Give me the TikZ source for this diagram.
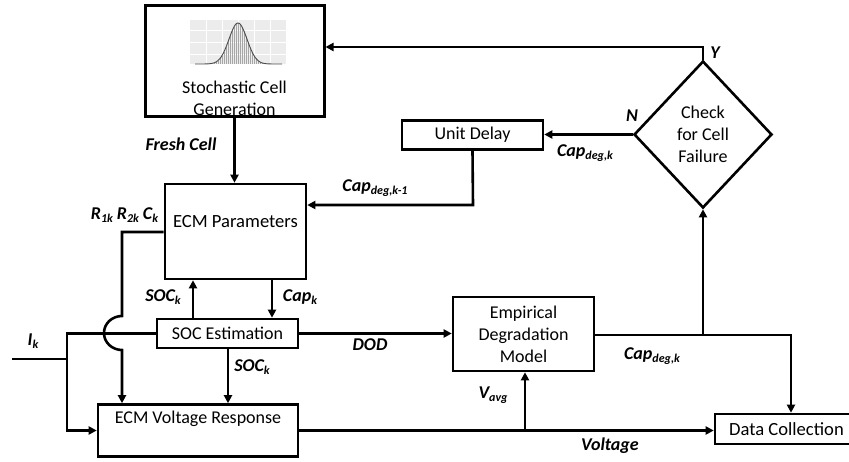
\documentclass[tikz,border=0pt]{standalone}
\usepackage{fontspec}
\setmainfont{Carlito}
\usetikzlibrary{arrows.meta,shapes.geometric}
\newcommand\sbx[1]{\raisebox{-0.35ex}{\fontsize{12}{12}\selectfont #1}}
\begin{document}
\begin{tikzpicture}[x=1pt,y=1pt,
  every node/.style={font=\fontsize{18}{22}\selectfont},
  blk/.style={draw, line width=2.6pt, inner sep=0pt, rectangle},
  txt/.style={align=center, inner sep=0pt},
  lbl/.style={inner sep=0pt, font=\fontsize{18}{22}\selectfont\bfseries\itshape},
  con/.style={line width=2.6pt},
  arr/.style={line width=2.6pt, -{Triangle[length=8pt,width=8pt]}}]
\clip (0,0) rectangle (849,-462);
% blocks
\node[blk, line width=3pt, minimum width=179pt, minimum height=111pt] (scg) at (234.5,-61.5) {};
\node[txt] (scgt) at (234.5,-98) {Stochastic Cell\\Generation};
\node[blk, minimum width=141pt, minimum height=95pt] (ecmp) at (235.5,-231.5) {};
\node[txt, font=\fontsize{18.6}{22}\selectfont] (ecmpt) at (235.5,-222) {ECM Parameters};
\node[blk, minimum width=141pt, minimum height=29pt] (soc) at (227.5,-333.5) {SOC Estimation};
\node[blk, minimum width=200pt, minimum height=52pt] (ecmv) at (198,-430.5) {};
\node[txt] (ecmvt) at (198,-419) {ECM Voltage Response};
\node[blk, minimum width=141pt, minimum height=74pt, align=center] (emp) at (523.5,-334) {Empirical\\Degradation\\Model};
\node[blk, minimum width=141pt, minimum height=29pt] (ud) at (472.5,-135) {Unit Delay};
\node[blk, minimum width=138pt, minimum height=30pt] (dc) at (784,-429) {};
\node[txt, anchor=west, font=\fontsize{18.6}{22}\selectfont] (dct) at (729,-429) {Data Collection};
\node[draw, diamond, line width=2.6pt, inner sep=0pt, minimum width=138pt, minimum height=147pt, align=center] (dia) at (703,-134.5) {Check\\for Cell\\Failure};
% histogram inside stochastic block
\fill[gray!15] (190,-20) rectangle (286,-64);
\foreach \gx in {206,222,238,254,270} \draw[white, line width=0.6pt] (\gx,-20) -- (\gx,-64);
\foreach \gy in {-30,-42,-54} \draw[white, line width=0.6pt] (190,\gy) -- (286,\gy);
\foreach \bx in {214,216,...,262} \draw[gray!70, line width=0.4pt] (\bx,-64) -- (\bx,{-64+41*exp(-((\bx-238)/9)^2/2)});
\draw[gray!60!black, line width=0.9pt] plot[domain=195:282, samples=90] (\x,{-64+41*exp(-((\x-238)/9)^2/2)});
% connectors
\coordinate (yturn) at (703,-47);
\draw[arr] (dia.north) -- (yturn) -- (yturn -| scg.east);
\draw[arr] (dia.west) -- (dia.west -| ud.east);
\coordinate (c1) at (473,-205);
\draw[arr] (ud.south) -- (c1) -- (c1 -| ecmp.east);
\draw[arr] (scg.south) -- (scg.south |- ecmp.north);
\coordinate (xa) at (193,0);
\coordinate (xb) at (272,0);
\coordinate (xc) at (228,0);
\draw[arr] (xa |- soc.north) -- (xa |- ecmp.south);
\draw[arr] (xb |- ecmp.south) -- (xb |- soc.north);
\draw[arr] (xc |- soc.south) -- (xc |- ecmv.north);
\coordinate (h1) at (122,-232);
\coordinate (h2) at (122,-316);
\coordinate (h3) at (104,-333);
\coordinate (h4) at (122,-350);
\draw[arr] (ecmp.west |- h1) -- (h1) -- (h2) to[out=180,in=90] (h3) to[out=-90,in=180] (h4) -- (h4 |- ecmv.north);
\coordinate (ik) at (12,-359);
\coordinate (jn) at (67,-359);
\draw[con] (ik) -- (jn);
\draw[con] (jn) |- (soc.west);
\draw[arr] (jn) |- (ecmv.west);
\draw[arr] (soc.east) -- (soc.east -| emp.west);
\coordinate (c2) at (791,-335);
\draw[arr] (emp.east |- c2) -- (c2) -- (c2 |- dc.north);
\draw[arr] (dia.south |- c2) -- (dia.south);
\draw[arr] (ecmv.east) -- (ecmv.east -| dc.west);
\coordinate (c3) at (525,0);
\draw[arr] (c3 |- ecmv.east) -- (c3 |- emp.south);
% labels
\node[lbl] (ly) at (715,-53) {Y};
\node[lbl] (ln) at (632,-116) {N};
\node[lbl] (lcap1) at (585,-153) {Cap\sbx{deg,k}};
\node[lbl] (lcap2) at (375,-188) {Cap\sbx{deg,k-1}};
\node[lbl] (lfresh) at (181,-144) {Fresh Cell};
\node[lbl] (lr) at (124.5,-215) {R\sbx{1k} R\sbx{2k} C\sbx{k}};
\node[lbl] (lsoc1) at (163,-297) {SOC\sbx{k}};
\node[lbl] (lcapk) at (300,-297) {Cap\sbx{k}};
\node[lbl] (lik) at (33,-341) {I\sbx{k}};
\node[lbl] (lsoc2) at (252,-367) {SOC\sbx{k}};
\node[lbl] (ldod) at (370,-345) {DOD};
\node[lbl] (lcap3) at (652,-356) {Cap\sbx{deg,k}};
\node[lbl] (lvavg) at (493,-395) {V\sbx{avg}};
\node[lbl] (lvolt) at (610,-446) {Voltage};
\end{tikzpicture}
\end{document}
